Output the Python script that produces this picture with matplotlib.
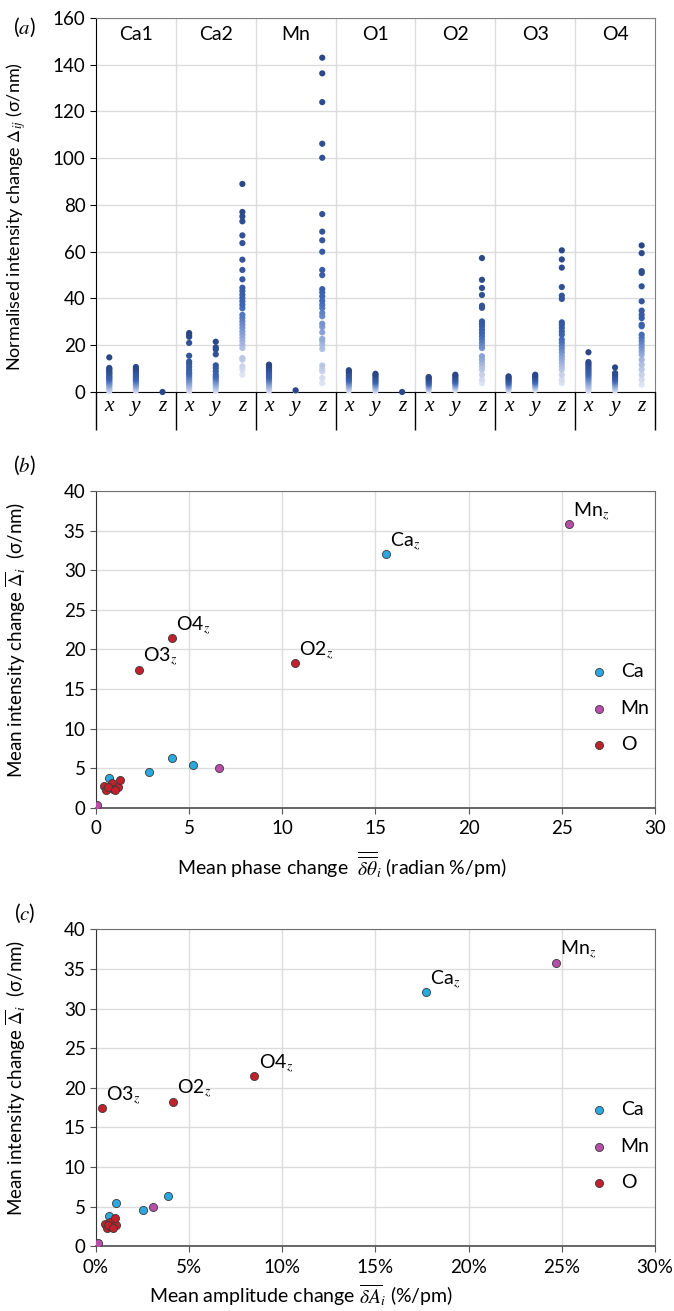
import matplotlib
matplotlib.use("Agg")
import matplotlib.pyplot as plt
import numpy as np
from matplotlib.colors import LinearSegmentedColormap

plt.rcParams['font.family'] = ['Lato', 'DejaVu Sans']
plt.rcParams['mathtext.fontset'] = 'stix'

# ---- panel (a): normalised intensity change per atom / direction
groups = ["Ca1", "Ca2", "Mn", "O1", "O2", "O3", "O4"]
dirs = ["x", "y", "z"]

Ca1_x = [14.8, 10.3, 9.8, 9.2, 8.6, 8.1, 7.6, 7.0, 6.5, 6.0, 5.5, 5.0, 4.5, 4.0, 3.5, 3.0, 2.5, 2.0, 1.5, 1.0, 0.6, 0.3]
Ca1_y = [10.7, 10.1, 9.4, 8.8, 8.0, 7.3, 6.6, 6.0, 5.3, 4.8, 4.1, 3.5, 3.0, 2.4, 1.9, 1.4, 0.9, 0.5]
Ca1_z = [0.0]
Ca2_x = [25.2, 24.2, 23.6, 21.0, 15.5, 13.0, 12.0, 10.7, 9.5, 8.4, 7.6, 6.8, 6.0, 5.2, 4.6, 3.9, 3.2, 2.6, 2.0, 1.4, 0.8, 0.4]
Ca2_y = [21.5, 19.1, 18.2, 16.1, 11.4, 10.2, 8.8, 7.4, 6.6, 5.9, 5.1, 4.4, 3.7, 3.0, 2.3, 1.6, 1.0, 0.5]
Ca2_z = [89.0, 77.0, 75.1, 73.0, 67.0, 63.7, 56.6, 52.2, 48.2, 44.6, 43.2, 41.6, 40.2, 38.8, 37.3, 35.8, 33.0,
         31.6, 30.2, 28.8, 27.4, 25.9, 24.5, 23.1, 21.7, 20.2, 18.8, 14.5, 13.8, 11.0, 9.6, 7.4]
Mn_x = [11.7, 11.0, 10.3, 9.5, 8.8, 8.0, 7.2, 6.5, 5.8, 5.1, 4.4, 3.7, 3.0, 2.3, 1.6, 1.0, 0.5]
Mn_y = [0.7, 0.5]
Mn_z = [143.0, 136.3, 124.0, 106.2, 100.2, 76.1, 68.6, 64.9, 60.0, 52.2, 50.0, 44.0, 42.6, 40.9, 39.0, 37.3,
        35.9, 33.8, 32.4, 29.2, 27.8, 25.5, 22.7, 21.7, 20.2, 18.4, 11.3, 9.8, 8.8, 6.0, 3.8]
O1_x = [9.3, 8.6, 7.8, 7.0, 6.2, 5.5, 4.8, 4.0, 3.3, 2.6, 1.9, 1.2, 0.6]
O1_y = [7.8, 7.2, 6.5, 5.8, 5.1, 4.4, 3.7, 3.0, 2.3, 1.6, 0.9, 0.4]
O1_z = [0.0]
O2_x = [6.4, 5.9, 5.3, 4.7, 4.1, 3.5, 2.9, 2.3, 1.7, 1.1, 0.5]
O2_y = [7.4, 6.8, 6.1, 5.4, 4.8, 4.1, 3.5, 2.8, 2.2, 1.5, 0.8]
O2_z = [57.3, 48.0, 44.5, 41.5, 36.9, 36.0, 30.2, 29.2, 28.0, 26.6, 25.2, 23.8, 22.4, 21.0, 19.6, 18.8,
        15.3, 13.9, 12.5, 11.0, 9.6, 7.4, 5.3, 3.8]
O3_x = [6.7, 6.1, 5.5, 4.9, 4.3, 3.7, 3.0, 2.4, 1.8, 1.2, 0.6]
O3_y = [7.4, 6.8, 6.2, 5.5, 4.9, 4.2, 3.6, 2.9, 2.3, 1.6, 0.9]
O3_z = [60.6, 56.7, 53.2, 44.9, 41.2, 39.8, 29.8, 28.8, 27.4, 25.9, 24.5, 22.4, 21.0, 19.6, 18.2, 16.8,
        15.3, 13.9, 12.5, 11.0, 9.6, 7.4, 5.3, 3.8]
O4_x = [17.0, 12.8, 12.1, 11.4, 10.6, 9.8, 9.0, 8.2, 7.4, 6.6, 5.8, 5.0, 4.2, 3.4, 2.6, 1.8, 1.0, 0.4]
O4_y = [10.5, 8.1, 7.5, 6.8, 6.1, 5.4, 4.7, 4.0, 3.3, 2.6, 1.9, 1.2, 0.6]
O4_z = [62.7, 59.4, 51.7, 50.9, 45.2, 38.8, 34.8, 33.0, 31.6, 28.8, 28.1, 24.5, 23.1, 21.7, 20.2, 18.8,
        17.4, 16.0, 13.8, 11.7, 9.6, 7.4, 5.3, 3.1]

columns = [Ca1_x, Ca1_y, Ca1_z, Ca2_x, Ca2_y, Ca2_z, Mn_x, Mn_y, Mn_z,
           O1_x, O1_y, O1_z, O2_x, O2_y, O2_z, O3_x, O3_y, O3_z, O4_x, O4_y, O4_z]

# ---- panels (b) and (c): mean values
ca_intensity = [32.06, 6.3, 5.4, 4.5, 3.8]
ca_phase = [15.55, 4.1, 5.2, 2.84, 0.69]
ca_amp = [17.7, 3.86, 1.06, 2.52, 0.69]

mn_intensity = [35.8, 5.0, 0.4]
mn_phase = [25.4, 6.6, 0.07]
mn_amp = [24.68, 3.05, 0.09]

# O2z, O3z, O4z, then the x/y ones
o_intensity = [18.25, 17.45, 21.45, 2.8, 2.3, 3.1, 2.4, 2.67, 3.54, 2.7, 2.3]
o_phase = [10.68, 2.29, 4.07, 0.43, 0.54, 0.84, 0.89, 1.16, 1.3, 0.66, 1.0]
o_amp = [4.14, 0.32, 8.5, 0.49, 0.6, 0.76, 0.83, 1.1, 1.02, 0.65, 0.92]

o_labels = ["O2$_{\\mathit{z}}$", "O3$_{\\mathit{z}}$", "O4$_{\\mathit{z}}$"]

ca_col = "#2aa9e0"
mn_col = "#b84ea9"
o_col = "#c2202a"

fig = plt.figure(figsize=(6.74, 13.11), dpi=100)

# ================= panel a
axa = fig.add_axes([0.1424, 0.701, 0.8294, 0.2853])
cmap = LinearSegmentedColormap.from_list("bl", [(0, "#dfe4f2"), (0.3, "#8aa3d6"), (0.55, "#3e66b4"), (1, "#2a4887")])
for k, col in enumerate(columns):
    vals = np.array(sorted(col))
    n = len(vals)
    if n > 1:
        frac = np.arange(n) / (n - 1)
    else:
        frac = np.ones(1)
    axa.scatter(np.full(n, k + 0.5), vals, s=20, c=cmap(frac), edgecolors="none", zorder=3, clip_on=False)

axa.set_xlim(0, 21)
axa.set_ylim(0, 160)
axa.set_yticks(np.arange(0, 161, 20))
axa.set_xticks([])
axa.grid(axis="y", color="#dcdcdc", lw=1)
axa.set_axisbelow(True)
for g in range(1, 7):
    axa.axvline(g * 3, color="#dcdcdc", lw=1, zorder=0)
axa.vlines(np.arange(0, 22, 3), -0.102, 0, transform=axa.get_xaxis_transform(), color="black", lw=1, clip_on=False)
for g, name in enumerate(groups):
    axa.text(g * 3 + 1.5, 0.955, name, transform=axa.get_xaxis_transform(), ha="center", va="center", fontsize=14)
    for j, d in enumerate(dirs):
        axa.text(g * 3 + j + 0.5, -0.038, d, transform=axa.get_xaxis_transform(), ha="center", va="center",
                 fontsize=15.5, family="Liberation Serif", style="italic")
for side in ["top", "right"]:
    axa.spines[side].set_color("#7f7f7f")
axa.spines["left"].set_color("black")
axa.spines["bottom"].set_color("black")
axa.tick_params(axis="y", labelsize=13.5, length=4, color="black")
axa.set_ylabel("Normalised intensity change $\\Delta_{ij}$ (σ/nm)", fontsize=13)
axa.yaxis.set_label_coords(-0.122, 0.47)
fig.text(0.036, 1 - 27 / 1311, "($\\mathit{a}$)", fontsize=15, ha="center", va="center")


def scatter_panel(ax, cx, mx, ox, xlabel):
    ax.scatter(cx, ca_intensity, s=34, color=ca_col, edgecolors="#3a3a3a", linewidths=0.6, zorder=3, label="Ca")
    ax.scatter(mx, mn_intensity, s=34, color=mn_col, edgecolors="#3a3a3a", linewidths=0.6, zorder=3, label="Mn")
    ax.scatter(ox, o_intensity, s=34, color=o_col, edgecolors="#3a3a3a", linewidths=0.6, zorder=3, label="O")
    ax.set_xlim(0, 30)
    ax.set_ylim(0, 40)
    ax.set_xticks(np.arange(0, 31, 5))
    ax.set_yticks(np.arange(0, 41, 5))
    ax.grid(color="#dcdcdc", lw=1)
    ax.set_axisbelow(True)
    for side in ["top", "right"]:
        ax.spines[side].set_color("#6f6f6f")
    ax.spines["bottom"].set_color("#595959")
    ax.spines["bottom"].set_linewidth(1.3)
    ax.spines["left"].set_color("#333333")
    ax.tick_params(labelsize=13.5, length=4, color="#555555")
    ax.tick_params(axis="x", pad=5)
    ax.set_ylabel("Mean intensity change $\\overline{\\Delta}_{i}$  (σ/nm)", fontsize=13.5)
    ax.yaxis.set_label_coords(-0.122, 0.53)
    ax.set_xlabel(xlabel, fontsize=14, va="center")
    ann = dict(textcoords="offset points", ha="left", va="bottom", fontsize=14)
    ax.annotate("Ca$_{\\mathit{z}}$", (cx[0], ca_intensity[0]), xytext=(3, 1), **ann)
    ax.annotate("Mn$_{\\mathit{z}}$", (mx[0], mn_intensity[0]), xytext=(3, 1), **ann)
    for i, lab in enumerate(o_labels):
        ax.annotate(lab, (ox[i], o_intensity[i]), xytext=(3, 1), **ann)
    ax.legend(frameon=False, loc="center", bbox_to_anchor=(0.928, 0.315), fontsize=14,
              labelspacing=1.0, handletextpad=0.1, scatterpoints=1, borderpad=0)


axb = fig.add_axes([0.1424, 0.3837, 0.8294, 0.2418])
scatter_panel(axb, ca_phase, mn_phase, o_phase,
              "Mean phase change  $\\overline{\\overline{\\delta\\theta}}_{i}$ (radian %/pm)")
axb.xaxis.set_label_coords(0.44, -0.18)
fig.text(0.036, 1 - 465 / 1311, "($\\mathit{b}$)", fontsize=15, ha="center", va="center")

axc = fig.add_axes([0.1424, 0.0495, 0.8294, 0.2415])
scatter_panel(axc, ca_amp, mn_amp, o_amp,
              "Mean amplitude change $\\overline{\\delta A}_{i}$ (%/pm)")
axc.set_xticklabels([f"{v}%" for v in range(0, 31, 5)])
axc.xaxis.set_label_coords(0.367, -0.155)
fig.text(0.036, 1 - 913 / 1311, "($\\mathit{c}$)", fontsize=15, ha="center", va="center")

fig.savefig("out.png", dpi=100, facecolor="white")
